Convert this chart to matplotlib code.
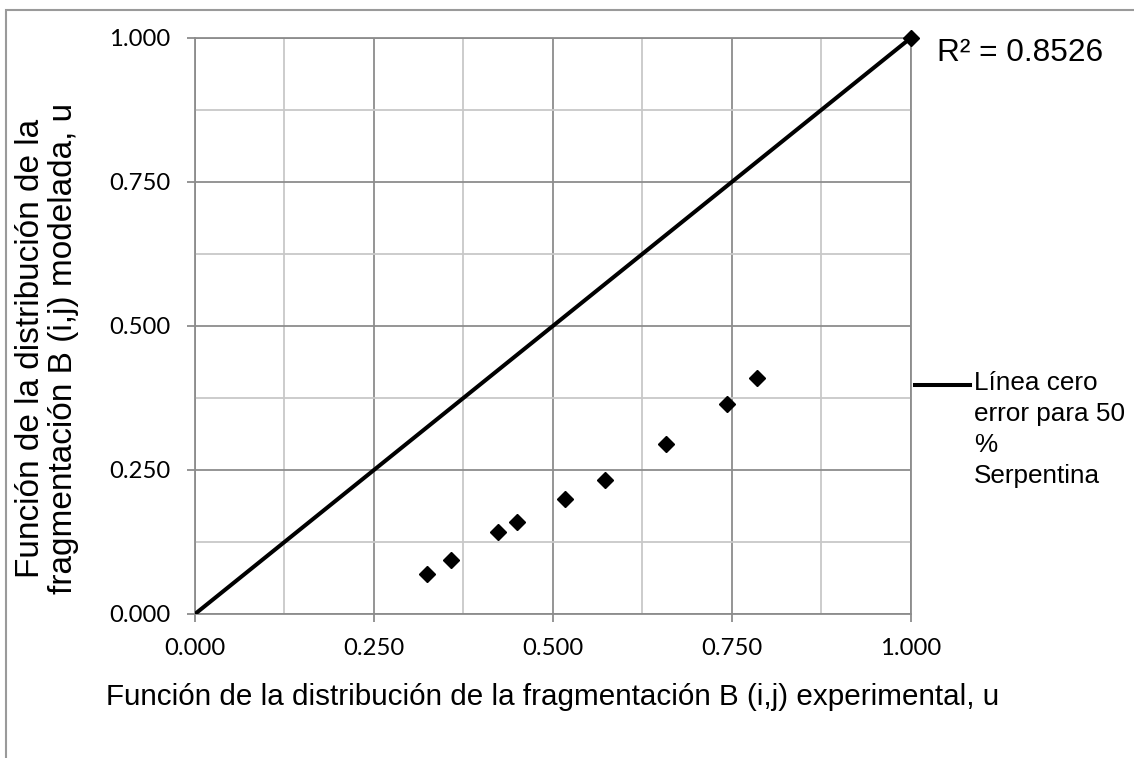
import matplotlib
matplotlib.use("Agg")
import matplotlib.pyplot as plt
from matplotlib.lines import Line2D
from matplotlib.patches import Rectangle
from matplotlib.ticker import MultipleLocator, FormatStrFormatter

# experimental vs modelled B(i,j)
b_experimental = [0.324, 0.357, 0.424, 0.450, 0.517, 0.573, 0.658, 0.743, 0.785, 1.000]
b_modelled = [0.069, 0.094, 0.142, 0.160, 0.200, 0.233, 0.295, 0.365, 0.409, 1.000]
zero_error_x = [0.0, 1.0]
zero_error_y = [0.0, 1.0]
r2_text = "R² = 0.8526"
legend_label = "Línea cero\nerror para 50\n%\nSerpentina"

W, H = 1134, 758
fig = plt.figure(figsize=(W / 100, H / 100), dpi=100)
ax = fig.add_axes([195 / W, 1 - 614 / H, (910.7 - 195) / W, (614 - 38) / H])

major_c = "#8c8c8c"
minor_c = "#c8c8c8"

ax.plot(zero_error_x, zero_error_y, color="black", lw=2.9, solid_capstyle="butt", zorder=3)
ax.plot(b_experimental, b_modelled, ls="none", marker="D", ms=8, color="black", zorder=4,
        clip_on=False)

ax.set_xlim(0, 1)
ax.set_ylim(0, 1)
for axis in (ax.xaxis, ax.yaxis):
    axis.set_major_locator(MultipleLocator(0.25))
    axis.set_minor_locator(MultipleLocator(0.125))
    axis.set_major_formatter(FormatStrFormatter("%.3f"))
ax.grid(which="major", color=major_c, lw=1.3)
ax.grid(which="minor", color=minor_c, lw=1.3)
ax.set_axisbelow(True)
for s in ax.spines.values():
    s.set_color(major_c)
    s.set_linewidth(1.3)
ax.tick_params(which="major", length=6, width=1.3, color=major_c, direction="out")
ax.tick_params(which="minor", length=0)
ax.tick_params(axis="x", pad=11)
ax.tick_params(axis="y", pad=12)
for lab in ax.get_xticklabels() + ax.get_yticklabels():
    lab.set_fontfamily("Lato")
    lab.set_fontsize(17.2)

arial = "Liberation Sans"
fig.text(553 / W, 1 - 705 / H, "Función de la distribución de la fragmentación B (i,j) experimental, u",
         ha="center", va="baseline", fontsize=21.3, family=arial)
fig.text(47 / W, 1 - 348 / H, "Función de la distribución de la\nfragmentación B (i,j) modelada, u",
         ha="center", va="center", rotation=90, fontsize=24, family=arial,
         multialignment="center", linespacing=1.05)
fig.text(937 / W, 1 - 61 / H, r2_text, ha="left", va="baseline", fontsize=22.8, family=arial)

# legend key
fig.add_artist(Line2D([915 / W, 970 / W], [1 - 385 / H, 1 - 385 / H], color="black", lw=2.9,
                      transform=fig.transFigure))
fig.text(974 / W, 1 - 371 / H, legend_label, ha="left", va="top", fontsize=18.8, family=arial,
         linespacing=1.36)

# chart area border (runs off the right and bottom edges)
top = 1 - 10 / H
fig.add_artist(Rectangle((6 / W, -0.2), 1.2, top + 0.2, fill=False, ec="#9a9a9a", lw=1.5,
                         transform=fig.transFigure))

fig.savefig("out.png", dpi=100)
